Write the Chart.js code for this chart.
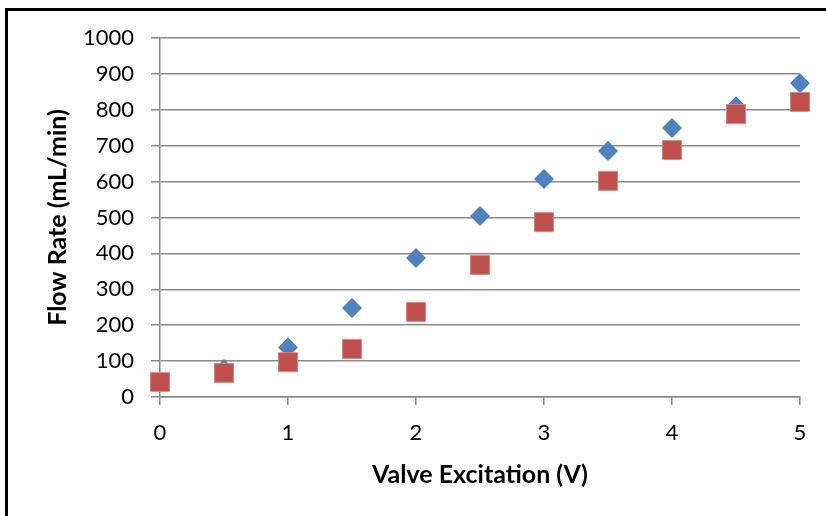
<!DOCTYPE html>
<html>
<head>
<meta charset="utf-8">
<script src="https://cdn.jsdelivr.net/npm/chart.js@4/dist/chart.umd.min.js"></script>
<style>
  html, body { margin: 0; padding: 0; background: #fff; overflow: hidden; }
  #wrap { position: relative; width: 826px; height: 516px; }
  #frame { position: absolute; left: 5px; top: 8px; width: 900px; height: 600px; border: 3px solid #000; }
  #chart { position: absolute; left: 0; top: 0; }
</style>
</head>
<body>
<div id="wrap">
  <div id="frame"></div>
  <canvas id="chart" width="826" height="516"></canvas>
</div>
<script>
// Valve excitation (V) on x, flow rate (mL/min) on y
const excitation = [0, 0.5, 1, 1.5, 2, 2.5, 3, 3.5, 4, 4.5, 5];
const flowBlue = [40, 78, 138, 248, 387, 504, 607, 685, 749, 810, 874];
const flowRed = [42, 67, 97, 134, 237, 368, 487, 602, 688, 788, 822];
const yTicks = [0, 100, 200, 300, 400, 500, 600, 700, 800, 900, 1000];
const xTicks = [0, 1, 2, 3, 4, 5];

const toPoints = vals => vals.map((v, i) => ({ x: excitation[i], y: v }));

Chart.defaults.font.family = 'Lato, "DejaVu Sans", sans-serif';
Chart.defaults.color = '#000';

const gridGray = '#8a8a8a';

const ctx = document.getElementById('chart').getContext('2d');
new Chart(ctx, {
  type: 'scatter',
  data: {
    datasets: [
      {
        label: 'Series 1',
        data: toPoints(flowBlue),
        pointStyle: 'rectRot',
        pointRadius: 10,
        pointHoverRadius: 10,
        backgroundColor: '#4F81BD',
        borderWidth: 0,
        clip: false,
        order: 2
      },
      {
        label: 'Series 2',
        data: toPoints(flowRed),
        pointStyle: 'rect',
        pointRadius: 13.5,
        pointHoverRadius: 13.5,
        backgroundColor: '#C0504D',
        borderColor: '#d98c8a',
        borderWidth: 1,
        clip: false,
        order: 1
      }
    ]
  },
  options: {
    responsive: false,
    animation: false,
    layout: { padding: { left: 0, top: 38, right: 26, bottom: 0 } },
    plugins: {
      legend: { display: false },
      tooltip: { enabled: false }
    },
    scales: {
      x: {
        type: 'linear',
        min: 0,
        max: 5,
        afterFit: s => { s.height = 119; },
        afterBuildTicks: s => { s.ticks = xTicks.map(v => ({ value: v })); },
        grid: { drawOnChartArea: false, drawTicks: true, tickLength: 8, color: gridGray, lineWidth: 1.5 },
        border: { display: true, color: gridGray, width: 1.5 },
        ticks: { font: { size: 22 }, padding: 15, callback: v => String(v) },
        title: {
          display: true,
          text: 'Valve Excitation (V)',
          font: { size: 25, weight: 'bold' },
          padding: { top: 0, bottom: 26 }
        }
      },
      y: {
        min: 0,
        max: 1000,
        afterFit: s => { s.width = 160; },
        afterBuildTicks: s => { s.ticks = yTicks.map(v => ({ value: v })); },
        grid: { drawTicks: true, tickLength: 9, color: gridGray, lineWidth: 1.5 },
        border: { display: true, color: gridGray, width: 1.5 },
        ticks: { font: { size: 22 }, padding: 17, callback: v => String(v) },
        title: {
          display: true,
          text: 'Flow Rate (mL/min)',
          font: { size: 25, weight: 'bold' },
          padding: { top: 43, bottom: 0 }
        }
      }
    }
  }
});
</script>
</body>
</html>
